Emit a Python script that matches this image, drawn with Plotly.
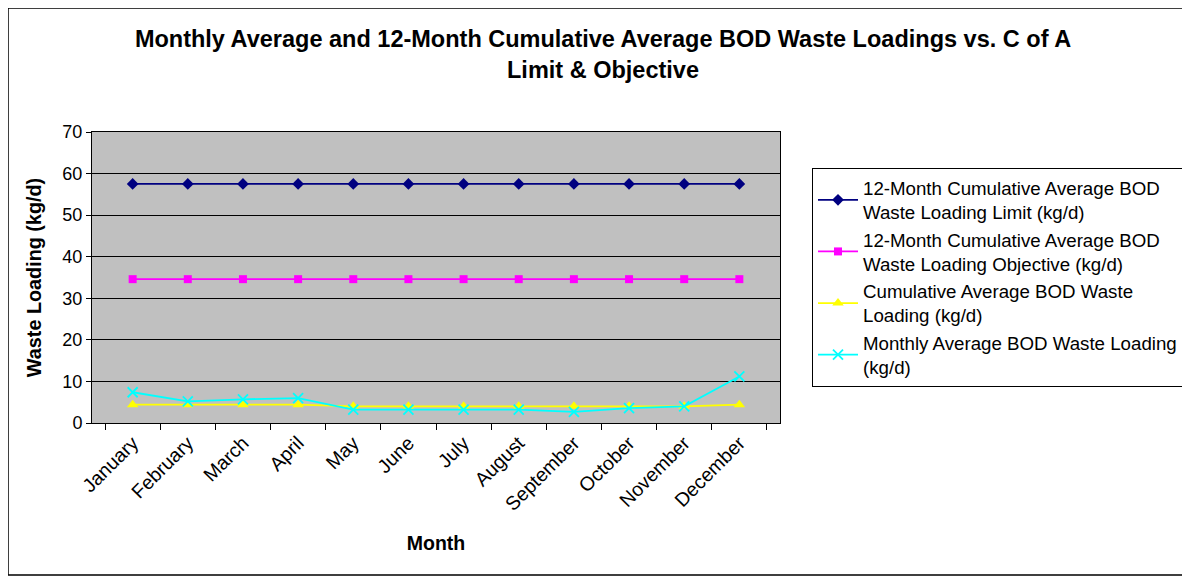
import plotly.graph_objects as go

months = ["January", "February", "March", "April", "May", "June", "July",
          "August", "September", "October", "November", "December"]
limit_vals = [57.5] * 12
objective_vals = [34.6] * 12
cumulative_vals = [4.4, 4.4, 4.4, 4.4, 4.0, 4.0, 4.0, 4.0, 4.0, 4.0, 4.0, 4.4]
monthly_vals = [7.4, 5.2, 5.7, 6.0, 3.2, 3.2, 3.2, 3.2, 2.7, 3.6, 4.0, 11.2]

names = [
    "12-Month Cumulative Average BOD<br>Waste Loading Limit (kg/d)",
    "12-Month Cumulative Average BOD<br>Waste Loading Objective (kg/d)",
    "Cumulative Average BOD Waste<br>Loading (kg/d)",
    "Monthly Average BOD Waste Loading<br>(kg/d)",
]
series = [limit_vals, objective_vals, cumulative_vals, monthly_vals]
colors = ["#000080", "#FF00FF", "#FFFF00", "#00FFFF"]
symbols = ["diamond", "square", "triangle-up", "x-thin"]
sizes = [9, 8, 10, 10]

fig = go.Figure()
for n, s, c, sym, sz in zip(names, series, colors, symbols, sizes):
    marker = dict(symbol=sym, size=sz, color=c)
    if sym == "x-thin":
        marker["line"] = dict(color=c, width=1.8)
    fig.add_trace(go.Scatter(x=months, y=s, name=n, mode="lines+markers",
                             line=dict(color=c, width=1.8), marker=marker))

# page body has an 8px default margin; compensate
OFF = 8
W, H = 1190, 576
L, T = 92 - OFF, 132 - OFF
R = W - (780 - OFF)
B = H - (423 - OFF)
pw, ph = W - L - R, H - T - B

fig.update_layout(
    width=W, height=H,
    margin=dict(l=L, r=R, t=T, b=B),
    paper_bgcolor="white", plot_bgcolor="#C0C0C0",
    font=dict(family="Liberation Sans, Arial", color="black", size=18),
    title=dict(text="<b>Monthly Average and 12-Month Cumulative Average BOD Waste Loadings vs. C of A<br>Limit & Objective</b>",
               x=(603 - OFF) / W, xanchor="center", y=1 - 39 / H, yanchor="top",
               font=dict(size=23.5)),
    legend=dict(x=(812 - OFF - L) / pw, y=(423 - 168) / ph, xanchor="left", yanchor="top",
                bordercolor="black", borderwidth=1, bgcolor="white",
                font=dict(size=18.7), tracegroupgap=7, itemwidth=40),
    showlegend=True,
)
fig.update_xaxes(type="category", tickson="boundaries", ticks="outside", ticklen=6,
                 tickcolor="black", tickangle=-45, showgrid=False,
                 showline=True, linecolor="black", linewidth=1, mirror=True,
                 automargin=False,
                 title=dict(text="<b>Month</b>", font=dict(size=19.5), standoff=22),
                 tickfont=dict(size=19.5))
fig.update_yaxes(range=[0, 70], dtick=10, ticks="outside", ticklen=5, tickcolor="black",
                 showgrid=True, gridcolor="black", gridwidth=1,
                 showline=True, linecolor="black", linewidth=1, mirror=True,
                 zeroline=False, automargin=False,
                 title=dict(text="<b>Waste Loading (kg/d)</b>", font=dict(size=19.8)),
                 tickfont=dict(size=18))

fig.add_shape(type="rect", xref="paper", yref="paper",
              x0=(0 - L) / pw, x1=(W - OFF - 1 - L) / pw,
              y0=(H - B - (H - OFF - 1)) / ph, y1=(H - B - 0) / ph,
              line=dict(color="black", width=1.5), layer="below")

fig.write_html("out.html")
